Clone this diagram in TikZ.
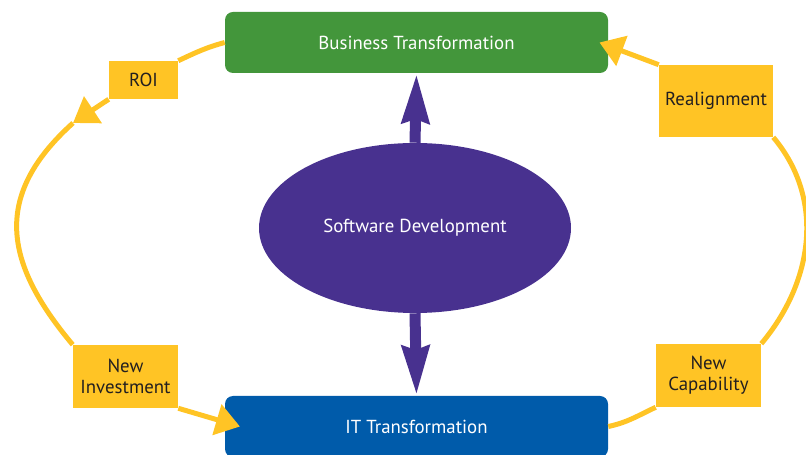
\documentclass[tikz,border=0pt]{standalone}
\usepackage{fontspec}
\setmainfont{PT Sans}
\usetikzlibrary{shapes.geometric,arrows.meta}
\definecolor{bizgreen}{HTML}{43963B}
\definecolor{itblue}{HTML}{005BAA}
\definecolor{swpurple}{HTML}{48318F}
\definecolor{loopyellow}{HTML}{FFC425}
\definecolor{lbltext}{HTML}{231F20}
\tikzset{
  tbox/.style={rounded corners=0.2cm, minimum width=9.575cm, minimum height=1.525cm, text=white, font=\fontsize{13.4}{15}\selectfont},
  lbl/.style={fill=loopyellow, text=lbltext, align=center, inner sep=0pt, font=\fontsize{13.4}{15}\selectfont},
  loopline/.style={draw=loopyellow, line width=0.125cm},
  bigarrow/.style={draw=swpurple, line width=0.275cm, -{Stealth[length=1.22cm,width=0.65cm,inset=0.08cm]}},
}
\begin{document}
\begin{tikzpicture}[>={Triangle[length=0.6cm,width=0.78cm]}]
        \clip (0,0) rectangle (20.15,11.375);
        % the two transformations and the core
        \node[tbox, fill=bizgreen] (bus) at (10.4125,10.3125) {Business Transformation};
        \node[tbox, fill=itblue] (it) at (10.4125,0.7125) {IT Transformation};
        \node[ellipse, fill=swpurple, text=white, minimum width=7.8cm, minimum height=4.25cm, font=\fontsize{13.4}{15}\selectfont] (sw) at (10.375,5.675) {Software Development};
        % labels on the loop
        \node[lbl, minimum width=1.725cm, minimum height=0.95cm] (roi) at (3.5875,9.375) {ROI};
        \node[lbl, minimum width=2.85cm, minimum height=1.8cm] (realign) at (17.9,8.85) {Realignment};
        \node[lbl, minimum width=2.625cm, minimum height=1.575cm] (newinv) at (3.1375,1.9625) {New\\Investment};
        \node[lbl, minimum width=2.625cm, minimum height=1.575cm] (newcap) at (17.7125,1.9875) {New\\Capability};
        \coordinate (roitip) at (1.825,8.3);
            \draw[bigarrow] (sw.north) -- (bus.south);
            \draw[bigarrow] (sw.south) -- (it.north);
        % yellow loop, left half
            \draw[loopline] (bus.west) to[out=195,in=25] (roi.north east);
            \draw[loopline, ->] (roi.south west) -- (roitip);
            \draw[loopline] (roitip) to[out=222,in=130,looseness=1.25] (newinv.north west);
            \draw[loopline, ->] (newinv.south east) -- ([xshift=0.38cm]it.west);
        % yellow loop, right half
            \draw[loopline] (it.east) to[out=12,in=205] (newcap.south west);
            \draw[loopline] (newcap.north east) to[out=50,in=-50] (realign.south east);
            \draw[loopline, ->] (realign.north west) -- ([xshift=-0.22cm]bus.east);
        \end{tikzpicture}
\end{document}
